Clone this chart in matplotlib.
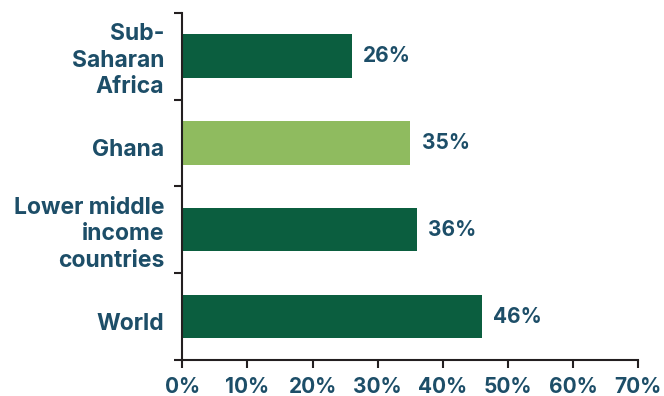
import matplotlib
matplotlib.use("Agg")
import matplotlib.pyplot as plt
from matplotlib.ticker import FixedLocator, PercentFormatter
from matplotlib.transforms import ScaledTranslation

# share of population, by region (percent)
regions = ["Sub-\nSaharan\nAfrica", "Ghana", "Lower middle\nincome\ncountries", "World"]
shares = [26, 35, 36, 46]
bar_colors = ["#0b5e3f", "#8fbb5f", "#0b5e3f", "#0b5e3f"]
xticks = [0, 10, 20, 30, 40, 50, 60, 70]

text_col = "#1d4e68"
axis_col = "#231f20"

plt.rcParams['font.family'] = ['Inter', 'DejaVu Sans']
plt.rcParams['font.weight'] = 'bold'

fig = plt.figure(figsize=(6.64, 3.96), dpi=100)
ax = fig.add_axes([182.3 / 664, 36 / 396, (638 - 182.3) / 664, (360 - 12.7) / 396])

ypos = list(range(len(regions)))
ax.barh(ypos, shares, height=0.5, color=bar_colors)

for y, v in zip(ypos, shares):
    ax.text(v + 1.8, y, f"{v}%", va="center", ha="left",
            fontsize=15, fontweight="bold", color=text_col)

ax.set_xlim(0, 70)
ax.set_ylim(len(regions) - 0.5, -0.5)
ax.set_xticks(xticks)
ax.xaxis.set_major_formatter(PercentFormatter(decimals=0))

# category labels sit between the boundary ticks
ax.set_yticks(ypos)
ax.set_yticklabels(regions, linespacing=1.25)
ax.yaxis.set_minor_locator(FixedLocator([-0.5, 0.5, 1.5, 2.5, 3.5]))
ax.tick_params(axis="y", which="major", length=0, pad=13, labelsize=16.5,
               labelcolor=text_col)
ax.tick_params(axis="y", which="minor", length=6, width=1.5, color=axis_col,
               direction="out")
ax.tick_params(axis="x", length=6, width=1.5, color=axis_col, pad=6,
               labelsize=15, labelcolor=text_col)

# single-line labels sit a little lower
shift = ScaledTranslation(0, -3.2 / 72, fig.dpi_scale_trans)
for lab in ax.get_yticklabels():
    if "\n" not in lab.get_text():
        lab.set_transform(lab.get_transform() + shift)

for side in ["top", "right"]:
    ax.spines[side].set_visible(False)
for side in ["left", "bottom"]:
    ax.spines[side].set_linewidth(1.5)
    ax.spines[side].set_color(axis_col)

fig.savefig("out.png", dpi=100)
